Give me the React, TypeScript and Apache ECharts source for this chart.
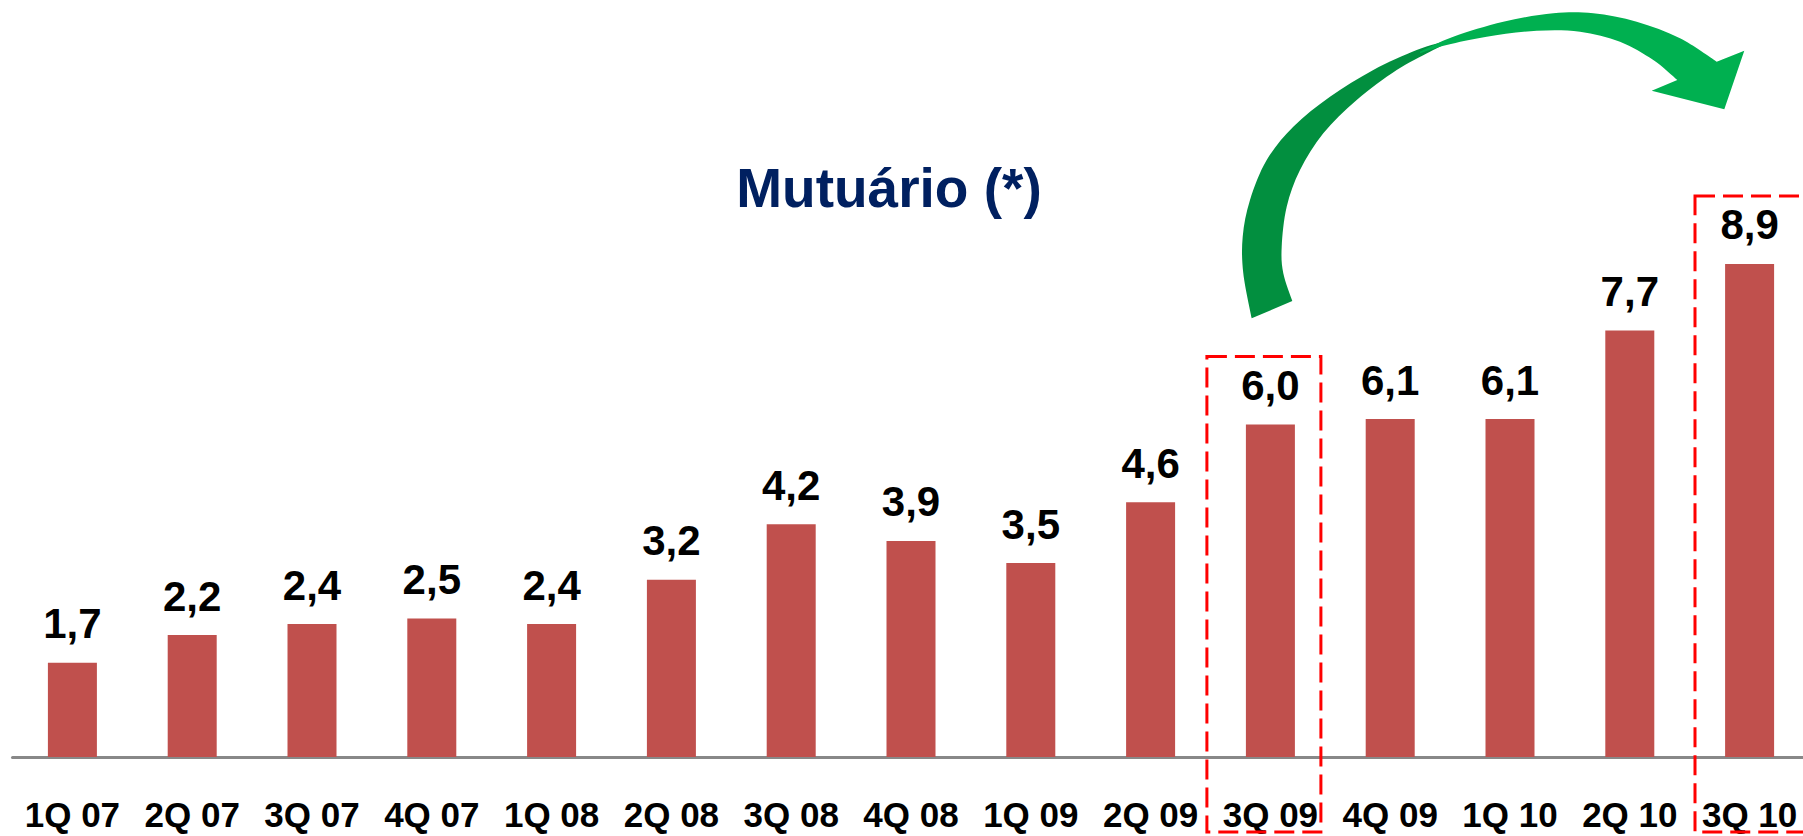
import React, { useEffect, useRef } from "react";
import * as echarts from "echarts";

// ---- data ----
const categories = [
  "1Q 07", "2Q 07", "3Q 07", "4Q 07", "1Q 08", "2Q 08", "3Q 08", "4Q 08",
  "1Q 09", "2Q 09", "3Q 09", "4Q 09", "1Q 10", "2Q 10", "3Q 10",
];
const values = [1.7, 2.2, 2.4, 2.5, 2.4, 3.2, 4.2, 3.9, 3.5, 4.6, 6.0, 6.1, 6.1, 7.7, 8.9];
const titleText = "Mutuário (*)";
const highlighted = ["3Q 09", "3Q 10"];

// ---- layout / decoration ----
const FONT = "'Liberation Sans', Arial, Helvetica, sans-serif";
const highlightLeftOffset = [-63.5, -54.6];
const highlightRightOffset = [50.5, 75];
const highlightTopGap = 68;
const highlightBottom = 832;

const darkOuter: number[][] = [
  [1251.7, 318.3], [1243.3, 273.3], [1242.7, 236.7], [1250, 200], [1266.7, 160],
  [1293.3, 126.7], [1330, 96.7], [1373.3, 70], [1416.7, 50], [1450, 40],
];
const darkInner: number[][] = [
  [1450, 41.7], [1430, 51.7], [1396.7, 70], [1356.7, 100], [1323.3, 133.3],
  [1300, 170], [1286.7, 206.7], [1281.7, 246.7], [1283.3, 273.3], [1292.3, 301],
];
const lightUpper: number[][] = [
  [1420, 51.7], [1453.3, 36.7], [1503.3, 21.7], [1553.3, 13.3], [1593.3, 13.3],
  [1636.7, 21.7], [1680, 38.3], [1716.7, 61.7],
];
const lightHead: number[][] = [[1744.3, 50.7], [1724.3, 109.3], [1651.7, 90.7], [1677.3, 80]];
const lightLower: number[][] = [
  [1677.3, 80], [1653.3, 60], [1620, 41.7], [1580, 31.7], [1536.7, 30.7],
  [1486.7, 36.7], [1446.7, 45], [1420, 53.3],
];

function smoothSeg(pts: number[][]): string {
  // Catmull-Rom through points -> cubic Beziers (continues from pts[0])
  let d = "";
  for (let i = 0; i < pts.length - 1; i++) {
    const p0 = pts[i - 1] || pts[i];
    const p1 = pts[i];
    const p2 = pts[i + 1];
    const p3 = pts[i + 2] || p2;
    const c1x = p1[0] + (p2[0] - p0[0]) / 6;
    const c1y = p1[1] + (p2[1] - p0[1]) / 6;
    const c2x = p2[0] - (p3[0] - p1[0]) / 6;
    const c2y = p2[1] - (p3[1] - p1[1]) / 6;
    d += ` C ${c1x} ${c1y} ${c2x} ${c2y} ${p2[0]} ${p2[1]}`;
  }
  return d;
}

const darkPath =
  `M ${darkOuter[0][0]} ${darkOuter[0][1]}` + smoothSeg(darkOuter) +
  ` L ${darkInner[0][0]} ${darkInner[0][1]}` + smoothSeg(darkInner) + " Z";

const lightPath =
  `M ${lightUpper[0][0]} ${lightUpper[0][1]}` + smoothSeg(lightUpper) +
  lightHead.map((p) => ` L ${p[0]} ${p[1]}`).join("") +
  smoothSeg(lightLower) + " Z";

echarts.graphic.registerShape("arrowDark", echarts.graphic.extendPath(darkPath, {}) as any);
echarts.graphic.registerShape("arrowLight", echarts.graphic.extendPath(lightPath, {}) as any);

export default function App() {
  const ref = useRef<HTMLDivElement>(null);

  useEffect(() => {
    if (!ref.current) return;
    const chart = echarts.init(ref.current, null, { renderer: "svg" });
    chart.setOption({
      animation: false,
      backgroundColor: "#ffffff",
      grid: { left: 12.5, top: 203, width: 1797, height: 554, outerBoundsMode: "none", containLabel: false },
      xAxis: {
        type: "category",
        data: categories,
        axisLine: { lineStyle: { color: "#888888", width: 3 } },
        axisTick: { length: 11, lineStyle: { color: "#888888", width: 2 } },
        axisLabel: {
          margin: 40,
          fontSize: 35,
          fontWeight: "bold",
          color: "#000000",
          fontFamily: FONT,
          interval: 0,
        },
      },
      yAxis: { type: "value", min: 0, max: 10, show: false },
      series: [
        {
          type: "bar",
          data: values,
          barWidth: 49,
          itemStyle: { color: "#C0504D" },
          label: {
            show: true,
            position: "top",
            distance: 18,
            fontSize: 42,
            fontWeight: "bold",
            color: "#000000",
            fontFamily: FONT,
            formatter: (p: any) => Number(p.value).toFixed(1).replace(".", ","),
          },
        },
      ],
    });

    const graphics: any[] = [];
    highlighted.forEach((cat, k) => {
      const idx = categories.indexOf(cat);
      const pt = chart.convertToPixel({ gridIndex: 0 }, [cat, values[idx]]) as number[];
      const left = pt[0] + highlightLeftOffset[k];
      const right = pt[0] + highlightRightOffset[k];
      const top = pt[1] - highlightTopGap;
      graphics.push({
        type: "rect",
        z: 10,
        shape: { x: left, y: top, width: right - left, height: highlightBottom - top },
        style: { fill: "none", stroke: "#FF0000", lineWidth: 3, lineDash: [20, 8] },
      });
    });
    graphics.push({ type: "arrowDark", x: 0, y: 0, z: 10, style: { fill: "#028F3F" } });
    graphics.push({ type: "arrowLight", x: 0, y: 0, z: 10, style: { fill: "#00B050" } });
    graphics.push({
      type: "text",
      x: 889,
      y: 188,
      z: 10,
      style: {
        text: titleText,
        fontSize: 55,
        fontWeight: "bold",
        fontFamily: FONT,
        fill: "#002060",
        align: "center",
        verticalAlign: "middle",
      },
    });
    chart.setOption({ graphic: graphics });

    return () => chart.dispose();
  }, []);

  return (
    <div
      ref={ref}
      style={{ position: "fixed", left: 0, top: 0, width: 1803, height: 836, background: "#fff" }}
    />
  );
}
